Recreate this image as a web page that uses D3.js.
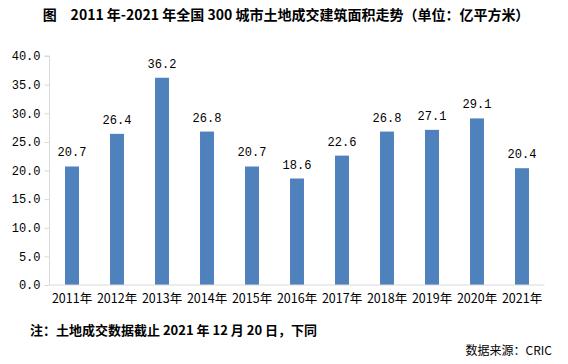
<!DOCTYPE html>
<html><head><meta charset="utf-8">
<script src="https://cdn.jsdelivr.net/npm/d3@7"></script>
<style>
html,body{margin:0;padding:0;background:#fff;}
svg{display:block;}
</style></head>
<body>
<script>
const years = ["2011年","2012年","2013年","2014年","2015年","2016年","2017年","2018年","2019年","2020年","2021年"];
const values = [20.7, 26.4, 36.2, 26.8, 20.7, 18.6, 22.6, 26.8, 27.1, 29.1, 20.4];
const yTicks = [0, 5, 10, 15, 20, 25, 30, 35, 40];
const titleText = "图　2011 年-2021 年全国 300 城市土地成交建筑面积走势（单位：亿平方米）";
const noteText = "注：土地成交数据截止 2021 年 12 月 20 日，下同";
const sourceText = "数据来源：CRIC";

(function(){
const W = 568, H = 364;
const svg = d3.select("body").append("svg").attr("width", W).attr("height", H);
const pL = 49.5, pR = 544.5, pT = 56, pB = 285;
const monoFont = "'Liberation Mono','Noto Sans CJK SC',monospace";
const cjk = "'Noto Sans CJK SC','Noto Sans',sans-serif";

const x = d3.scaleBand().domain(years).range([pL, pR]).paddingInner(0.69).paddingOuter(0.345);
const y = d3.scaleLinear().domain([0, 40]).range([pB, pT]);

svg.append("g").selectAll("rect").data(values).join("rect")
  .attr("x", (d, i) => x(years[i]))
  .attr("y", d => y(d))
  .attr("width", x.bandwidth())
  .attr("height", d => y(0) - y(d))
  .attr("fill", "#4f81bd");

const ya = svg.append("g").attr("transform", `translate(${pL},0)`)
  .call(d3.axisLeft(y).tickValues(yTicks).tickSize(5).tickPadding(4).tickFormat(d => d3.format(".1f")(d)));
ya.select(".domain").attr("stroke", "#d9d9d9").attr("d", `M-5,${pT}H0V${pB}`);
ya.selectAll(".tick line").attr("stroke", "#d9d9d9");
ya.selectAll(".tick text").attr("font-family", monoFont).attr("font-size", 12).attr("fill", "#000");

const xa = svg.append("g").attr("transform", `translate(0,${pB})`)
  .call(d3.axisBottom(x).tickSize(0).tickPadding(9));
xa.select(".domain").attr("stroke", "#d9d9d9").attr("d", `M${pL},0H${pR}`);
xa.selectAll(".tick text").attr("font-family", cjk).attr("font-size", 12.5).attr("fill", "#000");

svg.append("g").selectAll("text").data(values).join("text")
  .attr("x", (d, i) => x(years[i]) + x.bandwidth() / 2)
  .attr("y", d => y(d) - 10)
  .attr("text-anchor", "middle")
  .attr("font-family", monoFont).attr("font-size", 12).attr("fill", "#000")
  .text(d => d3.format(".1f")(d));

svg.append("text").attr("x", 286).attr("y", 20).attr("text-anchor", "middle")
  .attr("font-family", cjk).attr("font-weight", "bold").attr("font-size", 14).attr("fill", "#000")
  .text(titleText);

svg.append("text").attr("x", 30).attr("y", 335)
  .attr("font-family", cjk).attr("font-weight", "bold").attr("font-size", 13).attr("fill", "#000")
  .text(noteText);

svg.append("text").attr("x", 552).attr("y", 355).attr("text-anchor", "end")
  .attr("font-family", cjk).attr("font-size", 12).attr("fill", "#000")
  .text(sourceText);
})();
</script>
</body></html>
